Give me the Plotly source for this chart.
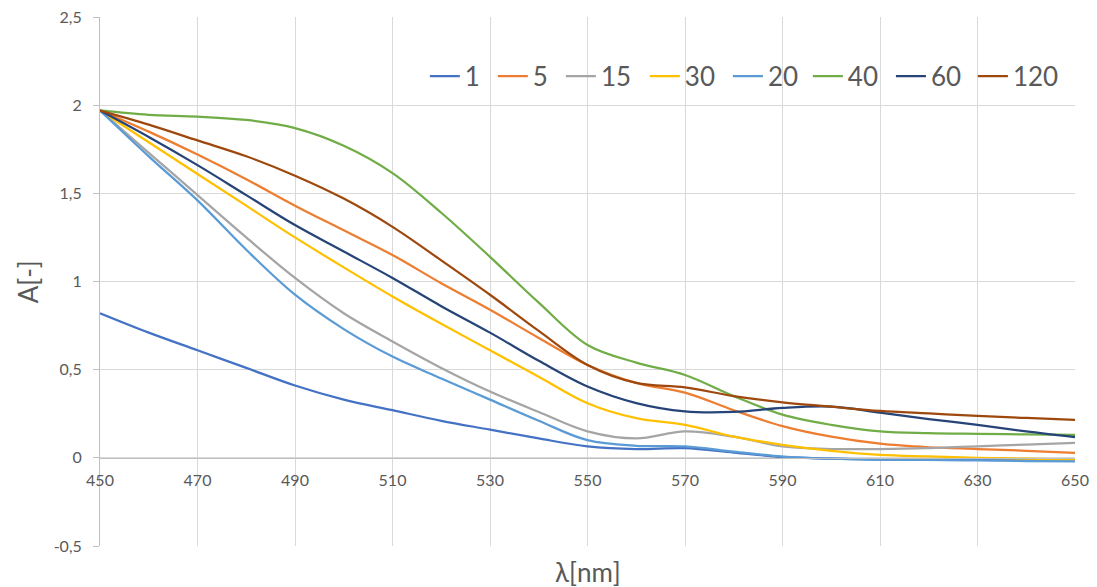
import plotly.graph_objects as go

wavelength = [450, 460, 470, 480, 490, 500, 510, 520, 530, 540, 550,
              560, 570, 580, 590, 600, 610, 620, 630, 640, 650]

a_1 = [0.82, 0.71, 0.61, 0.51, 0.41, 0.33, 0.27, 0.21, 0.16, 0.11, 0.065,
       0.05, 0.055, 0.03, 0.005, -0.005, -0.01, -0.01, -0.01, -0.01, -0.01]
a_5 = [1.97, 1.85, 1.72, 1.58, 1.43, 1.29, 1.15, 0.99, 0.84, 0.68, 0.527,
       0.425, 0.37, 0.27, 0.18, 0.12, 0.08, 0.06, 0.05, 0.04, 0.028]
a_15 = [1.97, 1.73, 1.49, 1.25, 1.02, 0.82, 0.66, 0.51, 0.376, 0.26, 0.15,
        0.11, 0.15, 0.12, 0.065, 0.05, 0.05, 0.055, 0.065, 0.075, 0.085]
a_30 = [1.97, 1.79, 1.61, 1.43, 1.25, 1.08, 0.915, 0.76, 0.61, 0.46, 0.31,
        0.225, 0.187, 0.12, 0.074, 0.04, 0.017, 0.008, 0.0, -0.005, -0.01]
a_20 = [1.97, 1.71, 1.46, 1.18, 0.925, 0.73, 0.574, 0.45, 0.33, 0.21, 0.1,
        0.068, 0.065, 0.035, 0.007, -0.005, -0.01, -0.012, -0.015, -0.018, -0.02]
a_40 = [1.97, 1.945, 1.935, 1.916, 1.87, 1.77, 1.615, 1.39, 1.14, 0.88, 0.64,
        0.54, 0.47, 0.35, 0.245, 0.187, 0.15, 0.14, 0.136, 0.133, 0.13]
a_60 = [1.97, 1.82, 1.66, 1.49, 1.32, 1.17, 1.02, 0.86, 0.71, 0.55, 0.404,
        0.31, 0.263, 0.26, 0.283, 0.29, 0.257, 0.22, 0.187, 0.15, 0.118]
a_120 = [1.97, 1.89, 1.80, 1.71, 1.60, 1.47, 1.31, 1.12, 0.925, 0.72, 0.527,
         0.425, 0.40, 0.35, 0.315, 0.29, 0.266, 0.252, 0.238, 0.226, 0.215]

names = ["1", "5", "15", "30", "20", "40", "60", "120"]
series = [a_1, a_5, a_15, a_30, a_20, a_40, a_60, a_120]
colors = ["#4472C4", "#ED7D31", "#A5A5A5", "#FFC000",
          "#5B9BD5", "#70AD47", "#264478", "#9E480E"]

y_ticks = [-0.5, 0, 0.5, 1, 1.5, 2, 2.5]
y_labels = ["-0,5", "0", "0,5", "1", "1,5", "2", "2,5"]

# one small legend per series so the entries sit where Excel put them
legend_x = [0.3332, 0.4029, 0.4727, 0.5588, 0.6440, 0.7260, 0.8112, 0.8953]

font_fam = "Lato, Open Sans, sans-serif"
tick_font = dict(family=font_fam, size=16, color="#595959")
grid = "#D9D9D9"

fig = go.Figure()
legends = {}
for i, (name, ys, col) in enumerate(zip(names, series, colors)):
    key = "legend" if i == 0 else f"legend{i + 1}"
    fig.add_trace(go.Scatter(x=wavelength, y=ys, name=name, mode="lines", legend=key,
                             line=dict(color=col, width=2.25, shape="spline", smoothing=1.0)))
    legends[key] = dict(orientation="h", x=legend_x[i], xanchor="left", y=0.888,
                        yanchor="middle", bgcolor="rgba(0,0,0,0)",
                        font=dict(size=26, color="#595959"))

fig.update_layout(
    width=1097, height=587,
    margin=dict(l=100, r=22, t=17, b=41),
    paper_bgcolor="white", plot_bgcolor="white",
    font=dict(family=font_fam, color="#595959"),
    showlegend=True,
    xaxis=dict(range=[450, 650], dtick=20, tick0=450, showgrid=True, gridcolor=grid,
               gridwidth=1, zeroline=False, anchor="free", position=1/6,
               showline=True, linecolor="#BFBFBF", linewidth=1, automargin=False,
               ticks="", ticklabelstandoff=8, tickfont=tick_font),
    yaxis=dict(range=[-0.5, 2.5], tickvals=y_ticks, ticktext=y_labels, showgrid=True,
               gridcolor=grid, zeroline=False, showline=True, linecolor="#BFBFBF",
               linewidth=1, automargin=False, ticks="outside", ticklen=6,
               tickcolor="#BFBFBF", ticklabelstandoff=8, tickfont=tick_font),
    annotations=[
        dict(text="λ[nm]", xref="paper", yref="paper", x=0.5, y=-0.049,
             xanchor="center", yanchor="middle", showarrow=False,
             font=dict(size=26, color="#595959")),
        dict(text="A[-]", xref="paper", yref="paper", x=-0.074, y=0.5,
             xanchor="center", yanchor="middle", textangle=-90, showarrow=False,
             font=dict(size=26, color="#595959")),
    ],
    **legends,
)

fig.write_html("out.html", config={"displayModeBar": False},
               post_script="document.body.style.margin='0';")
